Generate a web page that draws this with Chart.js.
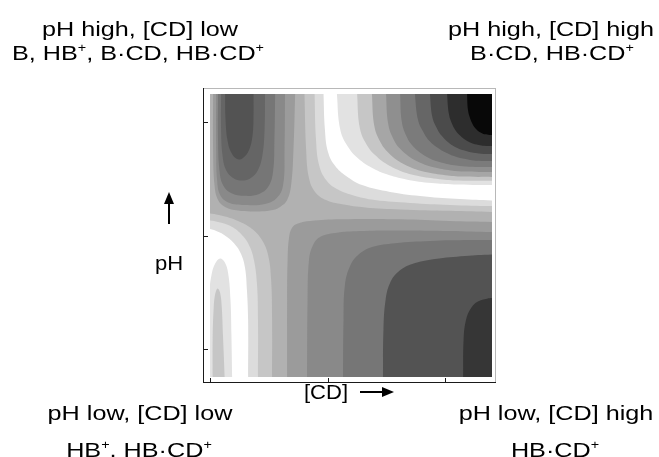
<!DOCTYPE html>
<html>
<head>
<meta charset="utf-8">
<title>pH / [CD] species map</title>
<script src="https://cdn.jsdelivr.net/npm/chart.js@4.4.1/dist/chart.umd.min.js"></script>
<style>
  body { margin: 0; background: #fff; }
  #wrap { position: relative; width: 659px; height: 457px; overflow: hidden; }
  #chart { position: absolute; left: 0; top: 0; }
  .lbl {
    position: absolute;
    font-family: "Liberation Sans", Arial, sans-serif;
    font-size: 21px;
    line-height: 21px;
    color: #000;
    white-space: nowrap;
    transform: translateX(-50%) scaleX(1.2);
  }
  .lbl.axis { transform: translateX(-50%) scaleX(1.05); }
  .lbl .p { font-size: 12px; position: relative; top: -8px; }
  svg { position: absolute; left: 0; top: 0; pointer-events: none; }
</style>
</head>
<body>
<div id="wrap">
  <canvas id="chart" width="659" height="457"></canvas>

  <div class="lbl" style="left:140px; top:18px">pH high, [CD] low</div>
  <div class="lbl" style="left:138px; top:42px">B, HB<span class="p">+</span>, B·CD, HB·CD<span class="p">+</span></div>
  <div class="lbl" style="left:551px; top:18px">pH high, [CD] high</div>
  <div class="lbl" style="left:552px; top:42px">B·CD, HB·CD<span class="p">+</span></div>
  <div class="lbl" style="left:140px; top:402px">pH low, [CD] low</div>
  <div class="lbl" style="left:139px; top:439px">HB<span class="p">+</span>, HB·CD<span class="p">+</span></div>
  <div class="lbl" style="left:556px; top:402px">pH low, [CD] high</div>
  <div class="lbl" style="left:555px; top:439px">HB·CD<span class="p">+</span></div>
  <div class="lbl axis" style="left:326px; top:381px">[CD]</div>
  <div class="lbl axis" style="left:169px; top:252px">pH</div>

  <svg width="659" height="457">
    <line x1="360" y1="392" x2="384" y2="392" stroke="#000" stroke-width="2"/>
    <polygon points="382,387 394,392 382,397" fill="#000"/>
    <line x1="169" y1="224" x2="169" y2="202" stroke="#000" stroke-width="2"/>
    <polygon points="164,204 169,192 174,204" fill="#000"/>
  </svg>
</div>

<script>
// field extent and tick positions ([CD] on x, pH on y, arbitrary units)
const fieldX = [0, 12];
const fieldY = [0, 10];
const xTicks = [0, 5, 10];
const yTicks = [1, 5, 9];

// contour lines, each runs from one edge of the field to another

// upper-right side of the saddle: white band and the two light bands below it
const whiteEdgeTR = [[4.83,10],[4.89,8.73],[5.02,7.95],[5.32,7.46],[5.79,7.10],[6.47,6.78],[7.66,6.54],[9.15,6.38],[10.64,6.29],[12,6.24]];
const band2EdgeTR = [[4.45,10],[4.51,8.37],[4.64,7.49],[4.94,6.96],[5.40,6.64],[6.04,6.43],[7.02,6.25],[8.51,6.15],[10.21,6.08],[12,6.04]];
const band3EdgeTR = [[4.02,10],[4.09,8.02],[4.21,7.03],[4.47,6.54],[4.94,6.25],[5.62,6.10],[6.60,5.99],[8.09,5.92],[10.21,5.87],[12,5.83]];

// lower-left side of the saddle
const whiteEdgeBL = [[1.62,0],[1.62,2.01],[1.57,3.07],[1.49,3.85],[1.32,4.35],[1.02,4.73],[0.60,5.02],[0.17,5.19],[0,5.23]];
const band2EdgeBL = [[2.04,0],[2.04,2.01],[2.00,3.25],[1.87,4.13],[1.66,4.66],[1.32,5.05],[0.85,5.34],[0.34,5.48],[0,5.53]];
const band3EdgeBL = [[2.64,0],[2.64,2.01],[2.60,3.43],[2.47,4.31],[2.21,4.84],[1.79,5.23],[1.28,5.48],[0.64,5.67],[0,5.78]];

// dark lobe, top left (outermost ring first)
const ringP4TL = [[0.13,10],[0.13,8.02],[0.19,6.78],[0.34,6.25],[0.64,6.01],[1.19,5.88],[1.91,5.85],[2.55,5.88],[2.98,6.01],[3.28,6.25],[3.45,6.78],[3.55,8.02],[3.62,10]];
const ringP5TL = [[0.26,10],[0.26,8.02],[0.30,6.96],[0.43,6.43],[0.77,6.17],[1.49,6.08],[2.34,6.11],[2.85,6.33],[3.11,6.78],[3.17,8.02],[3.19,10]];
const ringP6TL = [[0.34,10],[0.34,8.37],[0.40,7.31],[0.55,6.78],[0.89,6.50],[1.49,6.40],[2.09,6.47],[2.47,6.71],[2.68,7.24],[2.74,8.37],[2.77,10]];
const ringP7TL = [[0.47,10],[0.47,8.73],[0.53,7.84],[0.68,7.31],[0.98,7.03],[1.36,6.94],[1.74,7.03],[2.04,7.31],[2.23,7.84],[2.32,8.73],[2.34,10]];
const ringP8TL = [[0.64,10],[0.66,9.08],[0.74,8.37],[0.89,7.95],[1.15,7.70],[1.40,7.74],[1.66,8.02],[1.81,8.55],[1.85,9.26],[1.85,10]];

// dark lobe, bottom right
const ringP4BR = [[3.28,0],[3.28,2.72],[3.30,4.13],[3.36,4.91],[3.49,5.27],[3.74,5.42],[4.26,5.51],[5.53,5.57],[8.09,5.57],[10.21,5.51],[12,5.48]];
const ringP5BR = [[4.13,0],[4.15,2.72],[4.21,4.13],[4.38,4.66],[4.68,4.95],[5.32,5.09],[6.38,5.16],[8.09,5.18],[10.21,5.16],[12,5.12]];
const ringP6BR = [[5.66,0],[5.68,2.01],[5.74,3.25],[5.96,3.92],[6.30,4.31],[6.89,4.59],[7.87,4.73],[9.36,4.81],[11.06,4.84],[12,4.84]];
const ringP8BR = [[7.36,0],[7.38,1.66],[7.47,2.72],[7.66,3.32],[8.00,3.71],[8.60,3.99],[9.57,4.17],[10.85,4.28],[12,4.33]];
const ringP9BR = [[10.77,0],[10.79,1.31],[10.89,2.01],[11.11,2.44],[11.40,2.67],[11.79,2.77],[12,2.79]];

// light oval in the bottom left corner
const ovalN1BL = [[-0.13,0],[-0.11,1.66],[-0.04,2.90],[0.06,3.60],[0.23,4.03],[0.43,4.19],[0.62,4.06],[0.77,3.67],[0.87,2.72],[0.91,1.48],[0.94,0]];
const ovalN2BL = [[0.11,0],[0.11,1.31],[0.15,2.37],[0.21,2.90],[0.32,3.13],[0.43,2.97],[0.50,2.44],[0.55,1.48],[0.62,0]];

// arcs darkening towards the top right corner
const arcN1 = [[5.40,10],[5.55,8.71],[5.92,8.07],[6.27,7.75],[6.81,7.43],[7.49,7.17],[8.35,6.98],[9.43,6.85],[10.38,6.80],[12,6.78]];
const arcN2 = [[6.26,10],[6.38,8.77],[6.70,8.16],[7.01,7.85],[7.48,7.54],[8.08,7.29],[8.82,7.11],[9.77,6.99],[10.58,6.94],[12,6.93]];
const arcN3 = [[6.89,10],[7.00,8.83],[7.29,8.24],[7.56,7.95],[7.98,7.65],[8.51,7.42],[9.17,7.24],[10.01,7.13],[10.74,7.08],[12,7.07]];
const arcN4 = [[7.49,10],[7.59,8.90],[7.84,8.35],[8.08,8.07],[8.45,7.80],[8.92,7.58],[9.51,7.41],[10.25,7.30],[10.89,7.26],[12,7.24]];
const arcN5 = [[8.09,10],[8.17,8.97],[8.39,8.45],[8.60,8.19],[8.92,7.94],[9.33,7.73],[9.83,7.58],[10.48,7.47],[11.03,7.43],[12,7.42]];
const arcN6 = [[8.72,10],[8.86,9.05],[9.13,8.58],[9.34,8.34],[9.67,8.11],[10.05,7.92],[10.50,7.77],[11.02,7.68],[11.43,7.64],[12,7.63]];
const arcN7 = [[9.36,10],[9.47,9.15],[9.69,8.73],[9.86,8.52],[10.12,8.30],[10.43,8.13],[10.79,8.01],[11.21,7.92],[11.54,7.89],[12,7.88]];
const arcN8 = [[10.09,10],[10.17,9.27],[10.32,8.90],[10.45,8.71],[10.64,8.53],[10.86,8.38],[11.12,8.27],[11.43,8.20],[11.67,8.17],[12,8.16]];
const arcN9 = [[10.94,10],[10.98,9.42],[11.07,9.13],[11.14,8.99],[11.24,8.84],[11.37,8.72],[11.51,8.64],[11.68,8.58],[12,8.55]];

// grey for each band
const shade = {
  p1: '#dcdcdc', p2: '#c6c6c6', p3: '#b1b1b1', p4: '#9b9b9b', p5: '#898989',
  p6: '#767676', p7: '#656565', p8: '#535353', p9: '#363636',
  n1: '#e2e2e2', n2: '#c6c6c6', n3: '#a6a6a6', n4: '#8f8f8f', n5: '#7b7b7b',
  n6: '#666666', n7: '#4b4b4b', n8: '#2d2d2d', n9: '#080808'
};

// which edge a contour end sits on, as an outward direction
function edgeDir(p) {
  if (p[1] >= fieldY[1]) return [0, 1];
  if (p[1] <= fieldY[0]) return [0, -1];
  if (p[0] <= fieldX[0]) return [-1, 0];
  return [1, 0];
}

// carry both ends of a contour straight out past the field so the fill closes outside it
function extend(line) {
  const a = line[0], b = line[line.length - 1];
  const da = edgeDir(a), db = edgeDir(b);
  const out = (p, d, k) => [p[0] + d[0] * k, p[1] + d[1] * k];
  return [out(a, da, 0.6), out(a, da, 0.3), ...line, out(b, db, 0.3), out(b, db, 0.6)];
}

function corner(dx, dy) {
  return [dx > 0 ? fieldX[1] + 0.6 : fieldX[0] - 0.6, dy > 0 ? fieldY[1] + 0.6 : fieldY[0] - 0.6];
}

// region cut off by one contour (towards the edges it touches)
function patch(line) {
  const pts = extend(line);
  const da = edgeDir(line[0]), db = edgeDir(line[line.length - 1]);
  if (da[0] !== db[0] || da[1] !== db[1]) pts.push(corner(da[0] || db[0], da[1] || db[1]));
  return pts;
}

// region between an upper-right contour and a lower-left contour
function band(upper, lower) {
  return [...extend(upper), corner(1, -1), ...extend(lower), corner(-1, 1)];
}

// painted in this order, each on top of the previous
const layers = [
  [band(whiteEdgeTR, whiteEdgeBL), shade.p1],
  [band(band2EdgeTR, band2EdgeBL), shade.p2],
  [band(band3EdgeTR, band3EdgeBL), shade.p3],
  [patch(ringP4TL), shade.p4], [patch(ringP4BR), shade.p4],
  [patch(ringP5TL), shade.p5], [patch(ringP5BR), shade.p5],
  [patch(ringP6TL), shade.p6], [patch(ringP6BR), shade.p6],
  [patch(ringP7TL), shade.p7],
  [patch(ringP8TL), shade.p8], [patch(ringP8BR), shade.p8],
  [patch(ringP9BR), shade.p9],
  [patch(ovalN1BL), shade.n1], [patch(arcN1), shade.n1],
  [patch(ovalN2BL), shade.n2], [patch(arcN2), shade.n2],
  [patch(arcN3), shade.n3], [patch(arcN4), shade.n4], [patch(arcN5), shade.n5],
  [patch(arcN6), shade.n6], [patch(arcN7), shade.n7], [patch(arcN8), shade.n8],
  [patch(arcN9), shade.n9]
];

const datasets = layers.map(([pts, color], i) => ({
  data: pts.map(([x, y]) => ({x, y})),
  showLine: true,
  fill: 'shape',
  backgroundColor: color,
  borderWidth: 0,
  pointRadius: 0,
  tension: 0.4,
  order: layers.length - i
}));

// clip the bands to the field, then draw the frame with inward ticks
const framePlugin = {
  id: 'frame',
  beforeDatasetsDraw(chart) {
    const {ctx, scales: {x, y}} = chart;
    const left = x.getPixelForValue(fieldX[0]), right = x.getPixelForValue(fieldX[1]);
    const top = y.getPixelForValue(fieldY[1]), bottom = y.getPixelForValue(fieldY[0]);
    ctx.save();
    ctx.beginPath();
    ctx.rect(left, top, right - left, bottom - top);
    ctx.clip();
  },
  afterDatasetsDraw(chart) {
    chart.ctx.restore();
  },
  afterDraw(chart) {
    const {ctx, chartArea: a, scales: {x, y}} = chart;
    ctx.save();
    ctx.lineWidth = 1;
    ctx.strokeStyle = '#b8b8b8';
    ctx.beginPath();
    ctx.moveTo(a.left, a.top + 0.5); ctx.lineTo(a.right, a.top + 0.5);
    ctx.moveTo(a.right - 0.5, a.top); ctx.lineTo(a.right - 0.5, a.bottom);
    ctx.stroke();
    ctx.strokeStyle = '#1a1a1a';
    ctx.beginPath();
    ctx.moveTo(a.left + 0.5, a.top); ctx.lineTo(a.left + 0.5, a.bottom);
    ctx.moveTo(a.left, a.bottom - 0.5); ctx.lineTo(a.right, a.bottom - 0.5);
    xTicks.forEach(v => {
      const px = Math.round(x.getPixelForValue(v)) + 0.5;
      ctx.moveTo(px, a.bottom); ctx.lineTo(px, a.bottom - 5);
    });
    yTicks.forEach(v => {
      const py = Math.round(y.getPixelForValue(v)) + 0.5;
      ctx.moveTo(a.left, py); ctx.lineTo(a.left + 5, py);
    });
    ctx.stroke();
    ctx.restore();
  }
};

new Chart(document.getElementById('chart'), {
  type: 'scatter',
  data: { datasets: datasets },
  options: {
    responsive: false,
    animation: false,
    devicePixelRatio: 1,
    layout: { padding: { left: 203, top: 88, right: 163, bottom: 74 } },
    elements: { line: { capBezierPoints: false } },
    scales: {
      x: { type: 'linear', min: -0.3, max: 12.17, display: false },
      y: { type: 'linear', min: -0.21, max: 10.21, display: false }
    },
    plugins: { legend: { display: false }, tooltip: { enabled: false } }
  },
  plugins: [framePlugin]
});
</script>
</body>
</html>
